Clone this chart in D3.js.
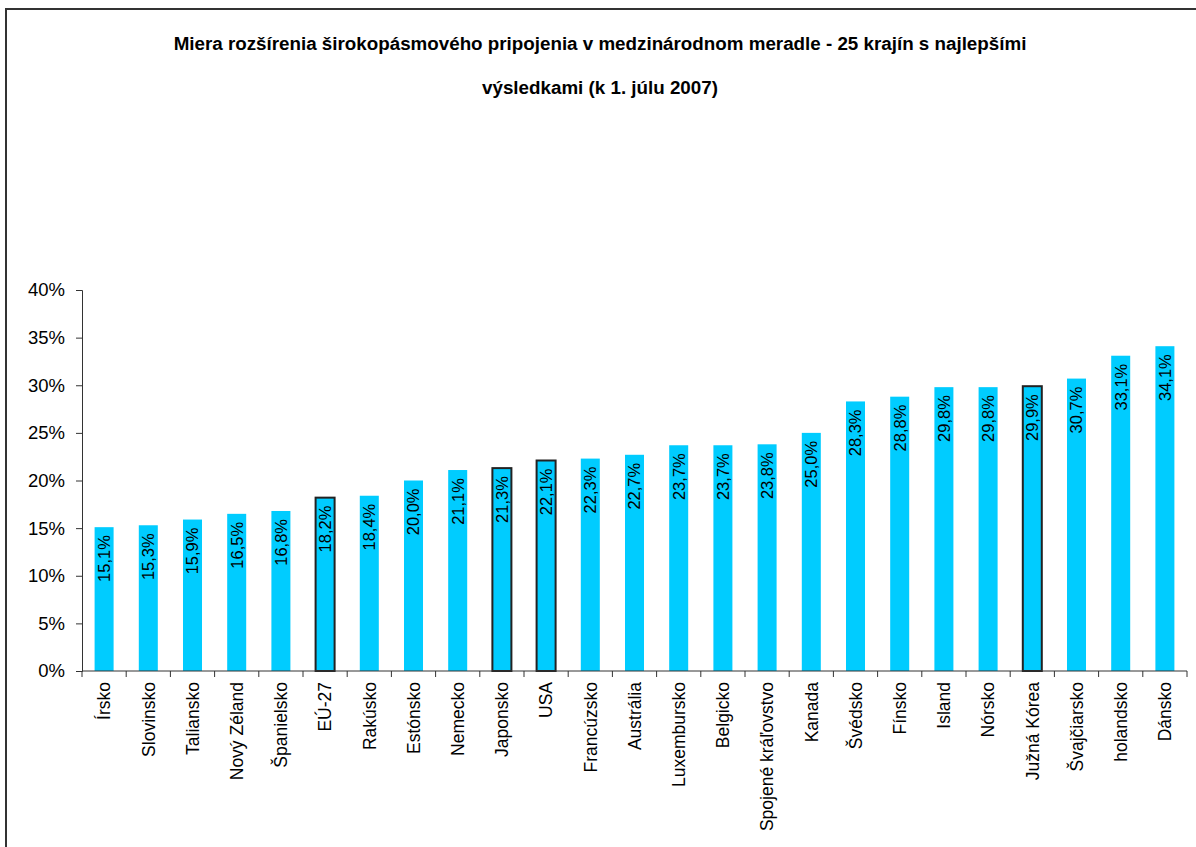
<!DOCTYPE html>
<html>
<head>
	<meta charset="utf-8">
	<script type="text/javascript" src="https://cdn.jsdelivr.net/npm/d3@7"></script>
	<style>
		body { margin: 0; background: #fff; }
		text { font-family: "Liberation Sans", Arial, sans-serif; }
	</style>
</head>
<body>
	<script type="text/javascript">

		// data
		var countries = ["Írsko", "Slovinsko", "Taliansko", "Nový Zéland", "Španielsko", "EÚ-27", "Rakúsko",
			"Estónsko", "Nemecko", "Japonsko", "USA", "Francúzsko", "Austrália", "Luxembursko", "Belgicko",
			"Spojené kráľovstvo", "Kanada", "Švédsko", "Fínsko", "Island", "Nórsko", "Južná Kórea",
			"Švajčiarsko", "holandsko", "Dánsko"];
		var values = [15.1, 15.3, 15.9, 16.5, 16.8, 18.2, 18.4, 20.0, 21.1, 21.3, 22.1, 22.3, 22.7, 23.7,
			23.7, 23.8, 25.0, 28.3, 28.8, 29.8, 29.8, 29.9, 30.7, 33.1, 34.1];
		var highlighted = ["EÚ-27", "Japonsko", "USA", "Južná Kórea"];
		var yTicks = [0, 5, 10, 15, 20, 25, 30, 35, 40];
		var titleLines = ["Miera rozšírenia širokopásmového pripojenia v medzinárodnom meradle - 25 krajín s najlepšími",
			"výsledkami (k 1. júlu 2007)"];

		var data = countries.map(function(c, i) {
			return {country: c, value: values[i]};
		});

		// canvas params
		var width = 1196, height = 847;
		var margin = {top: 290, left: 82, right: 9, bottom: 176};

		var svg = d3.select('body')
			.append('svg')
			.attr('width', width)
			.attr('height', height);

		svg.append('rect')
			.attr('width', width)
			.attr('height', height)
			.attr('fill', '#fff');

		// frame
		svg.append('rect')
			.attr('x', 6)
			.attr('y', 9)
			.attr('width', width + 20)
			.attr('height', height + 20)
			.attr('fill', 'none')
			.attr('stroke', '#333')
			.attr('stroke-width', 2);

		// title
		svg.selectAll('.title')
			.data(titleLines)
			.enter()
			.append('text')
			.attr('class', 'title')
			.attr('x', 600)
			.attr('y', function(d, i) { return 49.5 + i * 44; })
			.attr('text-anchor', 'middle')
			.attr('font-size', '18.8px')
			.attr('font-weight', 'bold')
			.text(function(d) { return d; });

		// scales
		var xScale = d3.scaleBand()
			.domain(countries)
			.range([margin.left, width - margin.right])
			.paddingInner(0.57)
			.paddingOuter(0.285);

		var yScale = d3.scaleLinear()
			.domain([0, 40])
			.range([height - margin.bottom, margin.top]);

		// bars
		svg.selectAll('rect.bar')
			.data(data)
			.enter()
			.append('rect')
			.attr('class', 'bar')
			.attr('x', function(d) { return xScale(d.country); })
			.attr('width', xScale.bandwidth())
			.attr('y', function(d) { return yScale(d.value); })
			.attr('height', function(d) { return yScale(0) - yScale(d.value); })
			.attr('fill', '#00ccff')
			.attr('stroke', function(d) { return highlighted.indexOf(d.country) >= 0 ? '#222' : 'none'; })
			.attr('stroke-width', 2);

		// value labels
		svg.selectAll('text.val')
			.data(data)
			.enter()
			.append('text')
			.attr('class', 'val')
			.attr('transform', function(d) {
				return 'translate(' + (xScale(d.country) + xScale.bandwidth() / 2) + ',' + (yScale(d.value) + 8) + ') rotate(-90)';
			})
			.attr('dy', '0.36em')
			.attr('text-anchor', 'end')
			.attr('font-size', '16.5px')
			.attr('fill', '#000')
			.text(function(d) { return d.value.toFixed(1).replace('.', ',') + '%'; });

		// y axis
		var yAxis = d3.axisLeft(yScale)
			.tickValues(yTicks)
			.tickSize(6)
			.tickPadding(11)
			.tickFormat(function(d) { return d + '%'; });

		var gy = svg.append('g')
			.attr('class', 'y-axis')
			.attr('transform', 'translate(' + margin.left + ',0)')
			.call(yAxis);
		gy.selectAll('text').attr('font-size', '18.5px').attr('fill', '#000')
			.style('font-family', '"Liberation Sans", Arial, sans-serif');
		gy.selectAll('line, path').attr('stroke', '#333');

		// x axis: line, ticks between categories, labels
		var x0 = xScale.range()[0], x1 = xScale.range()[1];
		var y0 = yScale(0);
		svg.append('line')
			.attr('x1', x0).attr('x2', x1)
			.attr('y1', y0).attr('y2', y0)
			.attr('stroke', '#333');

		svg.selectAll('line.xtick')
			.data(d3.range(countries.length + 1))
			.enter()
			.append('line')
			.attr('class', 'xtick')
			.attr('x1', function(i) { return x0 + i * xScale.step(); })
			.attr('x2', function(i) { return x0 + i * xScale.step(); })
			.attr('y1', y0)
			.attr('y2', y0 + 6)
			.attr('stroke', '#333');

		svg.selectAll('text.cat')
			.data(countries)
			.enter()
			.append('text')
			.attr('class', 'cat')
			.attr('transform', function(d) {
				return 'translate(' + (xScale(d) + xScale.bandwidth() / 2) + ',' + (y0 + 11) + ') rotate(-90)';
			})
			.attr('dy', '0.36em')
			.attr('text-anchor', 'end')
			.attr('font-size', '17.5px')
			.attr('fill', '#000')
			.text(function(d) { return d; });

	</script>
</body>
</html>
